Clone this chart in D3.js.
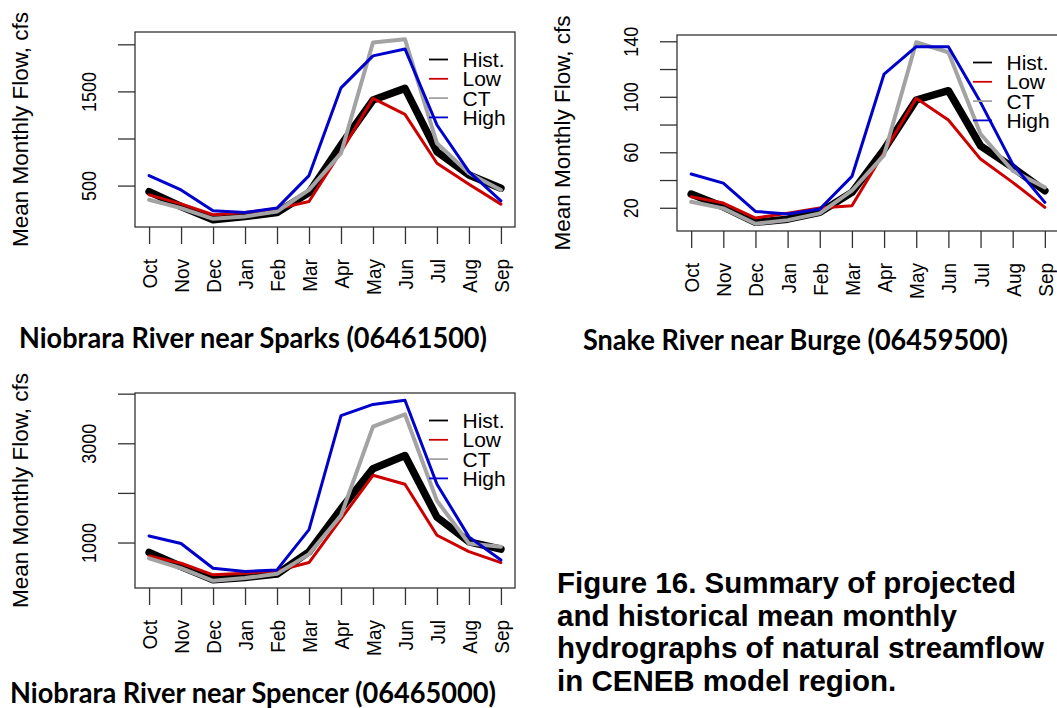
<!DOCTYPE html>
<html>
<head>
<meta charset="utf-8">
<script src="https://cdn.jsdelivr.net/npm/d3@7"></script>
<style>
  html, body { margin: 0; padding: 0; background: #fff; overflow: hidden; }
  svg { display: block; }
</style>
</head>
<body>
<svg id="fig" width="1057" height="708"></svg>
<script>
// Water-year months, October through September
const months = ["Oct", "Nov", "Dec", "Jan", "Feb", "Mar", "Apr", "May", "Jun", "Jul", "Aug", "Sep"];
const seriesNames = ["Hist.", "Low", "CT", "High"];

// Niobrara River near Sparks (06461500), mean monthly flow in cfs
const sparksHist = [436, 278, 137, 172, 214, 426, 931, 1408, 1532, 860, 613, 472];
const sparksLow  = [401, 306, 190, 214, 253, 331, 860, 1426, 1256, 737, 515, 303];
const sparksCT   = [349, 261, 147, 172, 225, 454, 843, 2019, 2054, 949, 631, 454];
const sparksHigh = [606, 454, 232, 214, 261, 606, 1538, 1877, 1951, 1143, 648, 338];

// Snake River near Burge (06459500)
const burgeHist = [29.9, 20.7, 9.5, 11.8, 16.7, 31.1, 62.0, 97.7, 104.4, 64.7, 49.1, 32.3];
const burgeLow  = [28.0, 23.4, 12.6, 16.0, 19.8, 21.4, 60.0, 98.9, 83.3, 55.1, 38.3, 20.3];
const burgeCT   = [24.3, 19.6, 8.5, 11.1, 16.0, 32.3, 58.0, 139.3, 132.1, 73.2, 46.7, 34.7];
const burgeHigh = [44.3, 37.8, 17.4, 15.5, 19.1, 42.6, 116.4, 136.1, 136.1, 96.0, 51.5, 23.9];

// Niobrara River near Spencer (06465000)
const spencerHist = [801, 516, 249, 297, 363, 815, 1677, 2488, 2753, 1512, 1014, 867];
const spencerLow  = [727, 582, 349, 382, 428, 596, 1478, 2355, 2175, 1146, 815, 596];
const spencerCT   = [681, 482, 229, 283, 369, 767, 1544, 3337, 3583, 1843, 980, 914];
const spencerHigh = [1133, 980, 482, 416, 448, 1259, 3556, 3783, 3868, 2175, 1114, 647];

// Y-axis ticks and the subset that carries a label
const sparksTicks = [500, 1000, 1500, 2000];
const sparksTickLabels = [500, 1500];
const burgeTicks = [20, 40, 60, 80, 100, 120, 140];
const burgeTickLabels = [20, 60, 100, 140];
const spencerTicks = [1000, 2000, 3000, 4000];
const spencerTickLabels = [1000, 3000];

const titles = {
  sparks: "Niobrara River near Sparks (06461500)",
  burge: "Snake River near Burge (06459500)",
  spencer: "Niobrara River near Spencer (06465000)"
};
const captionLines = [
  "Figure 16. Summary of projected",
  "and historical mean monthly",
  "hydrographs of natural streamflow",
  "in CENEB model region."
];
const yTitle = "Mean Monthly Flow, cfs";

// Line styling per series (Hist., Low, CT, High)
const style = {
  colors: ["#000000", "#CD0000", "#A3A3A3", "#0000CD"],
  widths: [7.5, 3, 4, 3]
};
const sansFont = "'Liberation Sans', Arial, Helvetica, sans-serif";

const svg = d3.select("#fig");

function drawPanel(series, ticks, tickLabels, box) {
  const g = svg.append("g");
  const all = series.flat();
  const [lo, hi] = d3.extent(all);
  const pad = 0.04 * (hi - lo);

  const x = d3.scalePoint().domain(months).range([box.l, box.r]).padding(0.44);
  const y = d3.scaleLinear().domain([lo - pad, hi + pad]).range([box.b, box.t]);

  // X axis: long ticks below the frame, month names rotated
  const xAxis = g.append("g")
    .attr("transform", `translate(0,${box.b})`)
    .call(d3.axisBottom(x).tickSize(17).tickPadding(0));
  xAxis.select(".domain").remove();
  xAxis.selectAll(".tick line").attr("stroke", "#333").attr("stroke-width", 1.3);
  xAxis.selectAll(".tick text")
    .attr("transform", "rotate(-90) scale(1,1.1)")
    .attr("x", -32).attr("y", 0).attr("dy", "0.36em")
    .attr("text-anchor", "end")
    .attr("fill", "#000")
    .style("font-family", sansFont).style("font-size", "19px");

  // Y axis: ticks to the left, labels parallel to the axis
  const yAxis = g.append("g")
    .attr("transform", `translate(${box.l},0)`)
    .call(d3.axisLeft(y).tickValues(ticks).tickSize(17)
      .tickFormat(d => tickLabels.includes(d) ? String(d) : ""));
  yAxis.select(".domain").remove();
  yAxis.selectAll(".tick line").attr("stroke", "#333").attr("stroke-width", 1.3);
  yAxis.selectAll(".tick text")
    .attr("x", 0).attr("y", 0).attr("dy", 0)
    .attr("transform", "translate(-39,0) rotate(-90) scale(1,1.12)")
    .attr("text-anchor", "middle")
    .attr("fill", "#000")
    .style("font-family", sansFont).style("font-size", "18px");

  // Y axis title
  g.append("text")
    .attr("transform", `translate(${box.l - 107},${(box.t + box.b) / 2}) rotate(-90)`)
    .attr("text-anchor", "middle")
    .style("font-family", sansFont).style("font-size", "22.5px")
    .text(yTitle);

  // Hydrograph lines
  const line = d3.line().x((d, i) => x(months[i])).y(d => y(d));
  series.forEach((vals, i) => {
    g.append("path")
      .datum(vals)
      .attr("d", line)
      .attr("fill", "none")
      .attr("stroke", style.colors[i])
      .attr("stroke-width", style.widths[i])
      .attr("stroke-linejoin", "round")
      .attr("stroke-linecap", "round");
  });

  // Plot frame
  g.append("rect")
    .attr("x", box.l).attr("y", box.t)
    .attr("width", box.r - box.l).attr("height", box.b - box.t)
    .attr("fill", "none").attr("stroke", "#333").attr("stroke-width", 1.3);

  // Legend, tucked into the upper right of the frame
  const leg = g.append("g");
  seriesNames.forEach((name, i) => {
    const ly = box.t + 27.5 + i * 19.3;
    leg.append("line")
      .attr("x1", box.r - 86).attr("x2", box.r - 67)
      .attr("y1", ly).attr("y2", ly)
      .attr("stroke", style.colors[i]).attr("stroke-width", 1.8);
    leg.append("text")
      .attr("x", box.r - 52.5).attr("y", ly).attr("dy", "0.36em")
      .style("font-family", sansFont).style("font-size", "21px")
      .text(name);
  });
}

drawPanel([sparksHist, sparksLow, sparksCT, sparksHigh], sparksTicks, sparksTickLabels,
  { l: 135, r: 515, t: 32, b: 227 });
drawPanel([burgeHist, burgeLow, burgeCT, burgeHigh], burgeTicks, burgeTickLabels,
  { l: 677, r: 1059, t: 35, b: 231 });
drawPanel([spencerHist, spencerLow, spencerCT, spencerHigh], spencerTicks, spencerTickLabels,
  { l: 135, r: 515, t: 393, b: 588 });

// Station titles under each panel
const titleFont = "Lato, 'Open Sans', sans-serif";
[
  { text: titles.sparks, x: 19, y: 348, w: 468 },
  { text: titles.burge, x: 583, y: 350, w: 425 },
  { text: titles.spencer, x: 10, y: 703, w: 486 }
].forEach(t => {
  svg.append("text")
    .attr("x", t.x).attr("y", t.y)
    .attr("textLength", t.w).attr("lengthAdjust", "spacingAndGlyphs")
    .style("font-family", titleFont).style("font-weight", 700).style("font-size", "28px")
    .text(t.text);
});

// Figure caption
const cap = svg.append("text")
  .style("font-family", sansFont).style("font-weight", 700).style("font-size", "29.5px");
captionLines.forEach((s, i) => {
  cap.append("tspan").attr("x", 557).attr("y", 593 + i * 32.7).text(s);
});
</script>
</body>
</html>
